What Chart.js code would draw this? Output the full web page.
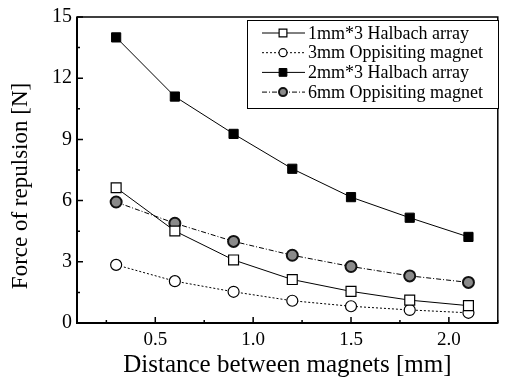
<!DOCTYPE html>
<html>
<head>
<meta charset="utf-8">
<script src="https://cdn.jsdelivr.net/npm/chart.js@4.4.1/dist/chart.umd.min.js"></script>
<style>
  html, body { margin: 0; padding: 0; background: #fff; }
  #wrap { width: 506px; height: 380px; position: relative; }
</style>
</head>
<body>
<div id="wrap"><canvas id="forceChart"></canvas></div>
<script>
// distance between magnets [mm]
const distances = [0.3, 0.6, 0.9, 1.2, 1.5, 1.8, 2.1];
// force of repulsion [N]
const halbach1mm = [6.63, 4.51, 3.09, 2.13, 1.55, 1.12, 0.85];
const opposing3mm = [2.85, 2.05, 1.53, 1.09, 0.82, 0.64, 0.50];
const halbach2mm = [14.0, 11.1, 9.27, 7.56, 6.17, 5.16, 4.22];
const opposing6mm = [5.93, 4.89, 4.00, 3.32, 2.77, 2.31, 1.99];

const seriesLabels = ["1mm*3 Halbach array", "3mm Oppisiting magnet", "2mm*3 Halbach array", "6mm Oppisiting magnet"];
const xTicks = [0.5, 1.0, 1.5, 2.0];
const xMinorTicks = [0.25, 0.75, 1.25, 1.75, 2.25];
const yTicks = [0, 3, 6, 9, 12, 15];
const yMinorTicks = [1.5, 4.5, 7.5, 10.5, 13.5];
const yTitle = "Force of repulsion [N]";
const xTitle = "Distance between magnets [mm]";

const FONT = "'Liberation Serif', 'DejaVu Serif', serif";
Chart.defaults.font.family = FONT;
Chart.defaults.color = "#000";

const toPoints = (ys) => distances.map((x, i) => ({ x: x, y: ys[i] }));

// style per series: line dash, marker
const styles = [
  { dash: [], point: "rect", radius: 7, fill: "#fff", border: "#000", bw: 1.2 },
  { dash: [2, 2], point: "circle", radius: 5.5, fill: "#fff", border: "#000", bw: 1.2 },
  { dash: [], point: "rect", radius: 6.5, fill: "#000", border: "#000", bw: 1 },
  { dash: [5, 2, 1, 2], point: "circle", radius: 5.5, fill: "#8a8a8a", border: "#111", bw: 2 },
];
const seriesData = [halbach1mm, opposing3mm, halbach2mm, opposing6mm];

const datasets = seriesData.map((ys, i) => ({
  label: seriesLabels[i],
  data: toPoints(ys),
  borderColor: "#000",
  borderWidth: 1,
  borderDash: styles[i].dash,
  tension: 0,
  pointStyle: styles[i].point,
  pointRadius: styles[i].radius,
  pointBackgroundColor: styles[i].fill,
  pointBorderColor: styles[i].border,
  pointBorderWidth: styles[i].bw,
}));

function drawMarker(ctx, st, x, y, r) {
  ctx.save();
  ctx.setLineDash([]);
  ctx.fillStyle = st.fill;
  ctx.strokeStyle = st.border;
  ctx.lineWidth = st.bw;
  ctx.beginPath();
  if (st.point === "rect") {
    const s = r * Math.SQRT1_2;
    ctx.rect(x - s, y - s, 2 * s, 2 * s);
  } else {
    ctx.arc(x, y, r, 0, Math.PI * 2);
  }
  ctx.fill();
  ctx.stroke();
  ctx.restore();
}

// frame, inward ticks, y title and the boxed legend
const framePlugin = {
  id: "frame",
  afterDraw(chart) {
    const { ctx, chartArea: a, scales } = chart;
    ctx.save();
    ctx.strokeStyle = "#000";
    ctx.lineWidth = 1.5;
    ctx.strokeRect(a.left, a.top, a.right - a.left, a.bottom - a.top);
    ctx.lineWidth = 2;
    ctx.beginPath();
    ctx.moveTo(a.left, a.top); ctx.lineTo(a.left, a.bottom); ctx.lineTo(a.right, a.bottom);
    ctx.stroke();

    ctx.lineWidth = 1.5;
    ctx.beginPath();
    xTicks.forEach(v => { const px = scales.x.getPixelForValue(v); ctx.moveTo(px, a.bottom); ctx.lineTo(px, a.bottom - 6); });
    xMinorTicks.forEach(v => { const px = scales.x.getPixelForValue(v); ctx.moveTo(px, a.bottom); ctx.lineTo(px, a.bottom - 3); });
    yTicks.forEach(v => { const py = scales.y.getPixelForValue(v); ctx.moveTo(a.left, py); ctx.lineTo(a.left + 6, py); });
    yMinorTicks.forEach(v => { const py = scales.y.getPixelForValue(v); ctx.moveTo(a.left, py); ctx.lineTo(a.left + 3, py); });
    ctx.stroke();

    // y axis title (sits a bit below the axis centre in the original)
    ctx.save();
    ctx.translate(21, 186);
    ctx.rotate(-Math.PI / 2);
    ctx.font = "23px " + FONT;
    ctx.textAlign = "center";
    ctx.textBaseline = "middle";
    ctx.fillStyle = "#000";
    ctx.fillText(yTitle, 0, 0);
    ctx.restore();

    // legend
    const lx = 247, ly = 20, lw = 251, lh = 88;
    ctx.fillStyle = "#fff";
    ctx.fillRect(lx, ly, lw, lh);
    ctx.lineWidth = 1;
    ctx.strokeStyle = "#000";
    ctx.strokeRect(lx + 0.5, ly + 0.5, lw, lh);
    ctx.font = "18px " + FONT;
    ctx.textBaseline = "middle";
    ctx.textAlign = "left";
    seriesLabels.forEach((lab, i) => {
      const y = 33 + i * 19.7;
      ctx.save();
      ctx.lineWidth = 1;
      ctx.setLineDash(styles[i].dash);
      ctx.beginPath();
      ctx.moveTo(262, y); ctx.lineTo(305, y);
      ctx.stroke();
      ctx.restore();
      drawMarker(ctx, styles[i], 283, y, styles[i].point === "rect" ? 5.5 : 4);
      ctx.fillStyle = "#000";
      ctx.fillText(lab, 308, y + 1);
    });
    ctx.restore();
  }
};

new Chart(document.getElementById("forceChart"), {
  type: "line",
  data: { datasets: datasets },
  options: {
    responsive: true,
    maintainAspectRatio: false,
    animation: false,
    layout: { padding: { top: 17, right: 6, left: 0, bottom: 0 } },
    plugins: { legend: { display: false }, tooltip: { enabled: false } },
    scales: {
      x: {
        type: "linear",
        min: 0.1,
        max: 2.25,
        afterBuildTicks: (s) => { s.ticks = xTicks.map(v => ({ value: v })); },
        afterFit: (s) => { s.height = 57; },
        grid: { drawOnChartArea: false, drawTicks: false },
        border: { display: false },
        ticks: { padding: 6, font: { size: 19 }, callback: (v) => v.toFixed(1) },
        title: { display: true, text: xTitle, font: { size: 25 }, padding: { top: 0, bottom: 0 } },
      },
      y: {
        min: 0,
        max: 15,
        afterBuildTicks: (s) => { s.ticks = yTicks.map(v => ({ value: v })); },
        afterFit: (s) => { s.width = 77; },
        grid: { drawOnChartArea: false, drawTicks: false },
        border: { display: false },
        ticks: { padding: 5, font: { size: 20 } },
        title: { display: false },
      },
    },
  },
  plugins: [framePlugin],
});
</script>
</body>
</html>
